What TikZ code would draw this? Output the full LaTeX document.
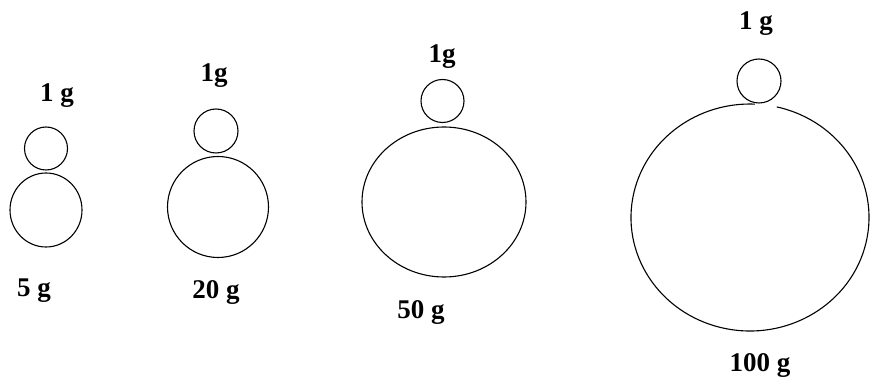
\documentclass[tikz,border=0pt]{standalone}
\usepackage{fontspec}
\setmainfont{Liberation Serif}
\usetikzlibrary{calc}
\begin{document}
\begin{tikzpicture}[x=1pt, y=-1pt]
    \definecolor{lineColour}{HTML}{000000}
    \tikzset{weight/.style={draw=lineColour, line width=1.1pt},
             massLabel/.style={font=\fontsize{27}{30}\selectfont\bfseries, inner sep=0pt}}

    \useasboundingbox (0,0) rectangle (871,387);

    % Centres of the weights
    \coordinate (smallA) at (46,148.5);
    \coordinate (bigA) at (46,210);
    \coordinate (smallB) at (216,131);
    \coordinate (bigB) at (218,207);
    \coordinate (smallC) at (442.5,101);
    \coordinate (bigC) at (444,202);
    \coordinate (smallD) at (759,81);
    \coordinate (bigD) at (750,217.5);

    % Draw weights
    \draw[weight] (smallA) circle[radius=21.5];
    \draw[weight] (bigA) ellipse[x radius=36, y radius=37];
    \draw[weight] (smallB) circle[radius=22];
    \draw[weight] (bigB) circle[radius=50.5];
    \draw[weight] (smallC) circle[radius=21.5];
    \draw[weight] (bigC) ellipse[x radius=82, y radius=75];
    \draw[weight] (smallD) circle[radius=22];
    \draw[weight] ($(bigD)+(-77:119 and 113.5)$) arc[start angle=-77, end angle=272.4, x radius=119, y radius=113.5];

    % Labels
    \node[massLabel] (labelSmallA) at (57,96) {1 g};
    \node[massLabel] (labelBigA) at (34,291) {5 g};
    \node[massLabel] (labelSmallB) at (214,76) {1g};
    \node[massLabel] (labelBigB) at (216,293) {20 g};
    \node[massLabel] (labelSmallC) at (442,57) {1g};
    \node[massLabel] (labelBigC) at (421,313) {50 g};
    \node[massLabel] (labelSmallD) at (756,24) {1 g};
    \node[massLabel] (labelBigD) at (760,366) {100 g};

\end{tikzpicture}
\end{document}
